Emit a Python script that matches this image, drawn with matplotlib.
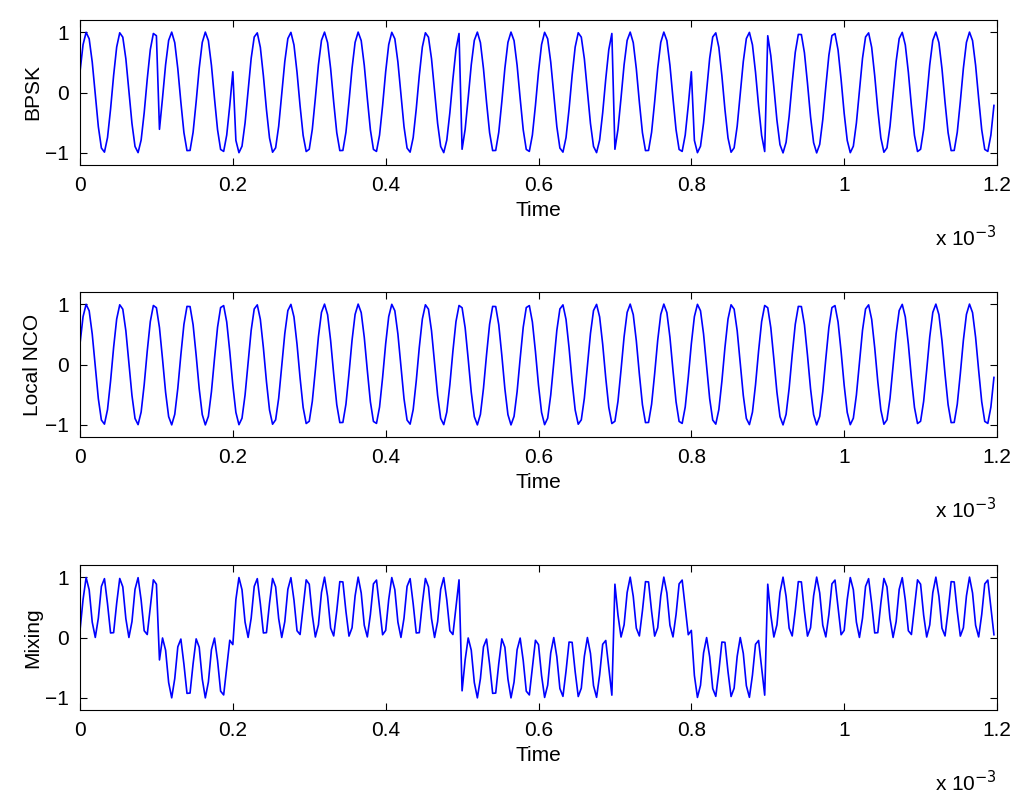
import numpy as np
import matplotlib
matplotlib.use('Agg')
import matplotlib.pyplot as plt

plt.rcParams['font.family'] = ['Liberation Sans', 'DejaVu Sans']
plt.rcParams['font.size'] = 15

# signal parameters
bits = [1, -1, 1, 1, 1, -1, -1, 1, -1, 1, 1, 1]
bit_time = 0.1e-3
carrier_freq = 22.5e3
sample_rate = 250e3
ylabels = ['BPSK', 'Local NCO', 'Mixing']
xticks = [0, 0.2, 0.4, 0.6, 0.8, 1.0, 1.2]
xticklabels = ['0', '0.2', '0.4', '0.6', '0.8', '1', '1.2']
yticks = [-1, 0, 1]

t = np.arange(0, 1.2e-3, 1 / sample_rate)
b = np.array(bits)[np.minimum((t / bit_time).astype(int), len(bits) - 1)]
nco = np.sin(2 * np.pi * carrier_freq * t + 0.35)
bpsk = b * nco
mix = bpsk * nco
signals = [bpsk, nco, mix]

fig = plt.figure(figsize=(10.24, 8.07), dpi=100)
tops = [20, 292, 565]
for top, sig, lab in zip(tops, signals, ylabels):
    ax = fig.add_axes([80 / 1024, 1 - (top + 145) / 807, 917 / 1024, 145 / 807])
    ax.plot(t * 1e3, sig, color='#0000ff', lw=1.2)
    ax.set_xlim(0, 1.2)
    ax.set_ylim(-1.2, 1.2)
    ax.set_xticks(xticks)
    ax.set_xticklabels(xticklabels)
    ax.set_yticks(yticks)
    ax.set_ylabel(lab, labelpad=2)
    ax.set_xlabel('Time', labelpad=4)
    ax.tick_params(direction='in', top=True, right=True, length=5, pad=8)
    ax.text(1.0, -0.5, r'x 10$^{-3}$', transform=ax.transAxes, ha='right', va='center',
            fontsize=15)

fig.savefig('out.png', dpi=100)
